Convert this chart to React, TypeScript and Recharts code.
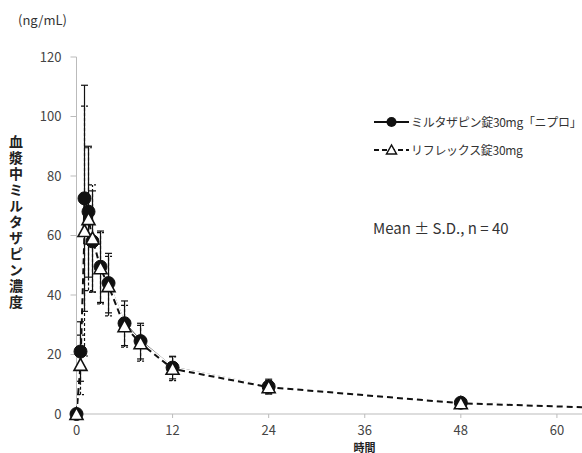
import React from 'react';
import { ComposedChart, Line, XAxis, YAxis, ErrorBar } from 'recharts';

const times = [0, 0.5, 1, 1.5, 2, 3, 4, 6, 8, 12, 24, 48, 72];
const niproMean = [0, 21, 72.5, 68, 58, 49.5, 44, 30.5, 24.5, 15.6, 9.2, 3.8, 1.6];
const niproSd = [0, 10, 38, 22, 17, 12, 10, 7.5, 6, 3.8, 2.5, 1.1, 0.6];
const reflexMean = [0, 16.5, 61.5, 65.5, 59, 49, 43, 29.5, 23.8, 15.2, 9.0, 3.6, 1.5];
const reflexSd = [0, 10, 42, 24, 18, 12, 10, 7, 6, 4, 2.2, 1, 0.5];
const xTicks = [0, 12, 24, 36, 48, 60];
const yTicks = [0, 20, 40, 60, 80, 100, 120];

const niproName = 'ミルタザピン錠30mg「ニプロ」';
const reflexName = 'リフレックス錠30mg';
const yLabel = '血漿中ミルタザピン濃度';
const xLabel = '時間';

const data = times.map((t, i) => ({
  t,
  a: niproMean[i],
  aErr: niproSd[i],
  b: reflexMean[i],
  bErr: reflexSd[i],
}));

const FONT = '"Noto Sans CJK JP", "Noto Sans", sans-serif';

const CircleDot = (props: any) => {
  const { cx, cy } = props;
  if (cx == null || cy == null) return null;
  return <circle cx={cx} cy={cy} r={6.5} fill="#111" stroke="#111" />;
};

const TriDot = (props: any) => {
  const { cx, cy } = props;
  if (cx == null || cy == null) return null;
  const h = 11;
  const w = 13;
  const pts = `${cx},${cy - h / 2 - 1} ${cx - w / 2},${cy + h / 2} ${cx + w / 2},${cy + h / 2}`;
  return <polygon points={pts} fill="#fff" stroke="#111" strokeWidth={1.6} />;
};

export default function App() {
  return (
    <div style={{ position: 'absolute', left: 0, top: 0, width: 582, height: 453, background: '#fff', fontFamily: FONT, overflow: 'hidden' }}>
      <ComposedChart width={653} height={453} data={data} margin={{ top: 57, right: 0, bottom: 0, left: 0 }}>
        <XAxis
          type="number"
          dataKey="t"
          domain={[0, 72]}
          ticks={xTicks}
          stroke="#bbb"
          tickSize={4}
          tickMargin={8}
          height={39}
          tick={{ fill: '#444', fontSize: 13, fontFamily: FONT }}
        />
        <YAxis
          type="number"
          domain={[0, 120]}
          ticks={yTicks}
          width={76.5}
          stroke="#bbb"
          tickSize={6}
          tickMargin={9}
          tick={{ fill: '#444', fontSize: 13, fontFamily: FONT }}
        />
        <Line dataKey="a" stroke="#111" strokeWidth={2} dot={false} activeDot={false} isAnimationActive={false} legendType="none" />
        <Line dataKey="b" stroke="#fff" strokeWidth={4.5} dot={false} activeDot={false} isAnimationActive={false} legendType="none" />
        <Line dataKey="b" stroke="#111" strokeWidth={2} strokeDasharray="6 4" dot={false} activeDot={false} isAnimationActive={false} legendType="none" />
        <Line
          dataKey="a"
          name={niproName}
          stroke="none"
          dot={<CircleDot />}
          activeDot={false}
          isAnimationActive={false}
        >
          <ErrorBar dataKey="aErr" width={3.5} stroke="#111" strokeWidth={1.2} />
        </Line>
        <Line
          dataKey="b"
          name={reflexName}
          stroke="none"
          dot={<TriDot />}
          activeDot={false}
          isAnimationActive={false}
        >
          <ErrorBar dataKey="bErr" width={3.5} stroke="#111" strokeWidth={1.2} strokeDasharray="3 2" />
        </Line>
      </ComposedChart>

      <div style={{ position: 'absolute', left: 18, top: 10, fontSize: 13, color: '#333', whiteSpace: 'nowrap' }}>(ng/mL)</div>

      <div
        style={{
          position: 'absolute',
          left: 8,
          top: 135,
          writingMode: 'vertical-rl',
          fontSize: 14,
          fontWeight: 700,
          letterSpacing: 2,
          color: '#222',
          lineHeight: '16px',
        }}
      >
        {yLabel}
      </div>

      <div style={{ position: 'absolute', left: 352.5, top: 441.5, width: 24, textAlign: 'center', fontSize: 11, fontWeight: 700, color: '#222', lineHeight: '11px', whiteSpace: 'nowrap' }}>{xLabel}</div>

      <div style={{ position: 'absolute', left: 373, top: 113, width: 209, fontSize: 12, color: '#333', lineHeight: '18px', whiteSpace: 'nowrap' }}>
        <div style={{ display: 'flex', alignItems: 'center', height: 18 }}>
          <svg width={37} height={14} style={{ marginRight: 1, flex: 'none' }}>
            <line x1={1} y1={7} x2={36} y2={7} stroke="#111" strokeWidth={2} />
            <circle cx={18.5} cy={7} r={5} fill="#111" />
          </svg>
          <span style={{ letterSpacing: -0.3 }}>{niproName}</span>
        </div>
        <div style={{ display: 'flex', alignItems: 'center', height: 18, marginTop: 10 }}>
          <svg width={37} height={14} style={{ marginRight: 1, flex: 'none' }}>
            <line x1={1} y1={7} x2={36} y2={7} stroke="#111" strokeWidth={2} strokeDasharray="5 3" />
            <polygon points="18.5,2 13.5,11 23.5,11" fill="#fff" stroke="#111" strokeWidth={1.5} />
          </svg>
          <span style={{ letterSpacing: -0.3 }}>{reflexName}</span>
        </div>
      </div>

      <div style={{ position: 'absolute', left: 373, top: 218, fontSize: 15, color: '#333', lineHeight: '20px', whiteSpace: 'nowrap' }}>
        Mean ± S.D., n = 40
      </div>
    </div>
  );
}
